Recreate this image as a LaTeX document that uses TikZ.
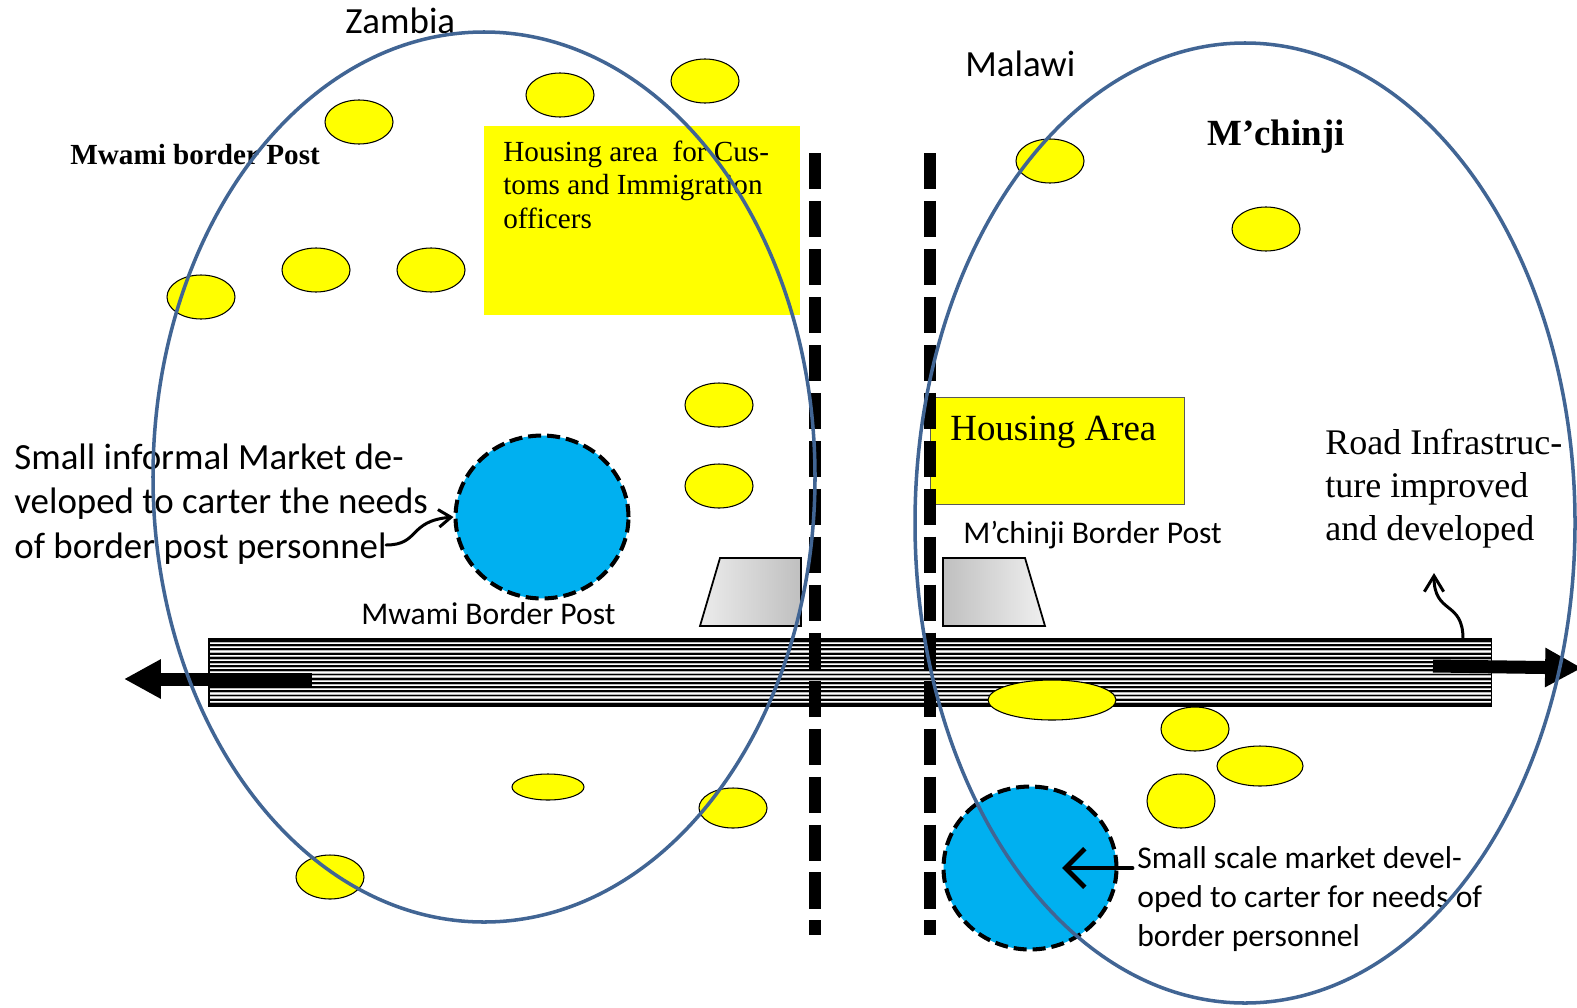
\documentclass[tikz,border=0pt]{standalone}
\usepackage{fontspec}
\setmainfont{Liberation Serif}
\newfontfamily\calib{Carlito}
\usetikzlibrary{shapes.geometric,arrows.meta}
\definecolor{borderblue}{RGB}{65,101,148}
\definecolor{mktblue}{RGB}{0,176,240}
\definecolor{houseyellow}{RGB}{255,255,0}

\begin{document}
\begin{tikzpicture}[x=0.02cm, y=-0.02cm,
    country/.style={draw=borderblue, line width=2pt},
    blob/.style={fill=houseyellow, draw=black, line width=0.6pt},
    market/.style={ellipse, fill=mktblue, draw=black, line width=2.3pt,
        dash pattern=on 7.4pt off 3.4pt, minimum width=3.46cm,
        minimum height=3.26cm, inner sep=0pt},
    frontier/.style={line width=6.3pt, dash pattern=on 20.5pt off 6.8pt},
    roadarrow/.style={line width=7.4pt, -{Triangle[length=21pt,width=21pt]}},
    pointer/.style={line width=1.7pt, line cap=round,
        -{Straight Barb[length=7pt,width=10pt]}},
    txt/.style={anchor=base west, align=left, inner sep=0pt},
    bigsans/.style={txt, font=\calib\fontsize{21}{25.3}\selectfont},
    smallsans/.style={txt, font=\calib\fontsize{18}{22.2}\selectfont}]

    \useasboundingbox (0,0) rectangle (1577,1007);
    \fill[white] (0,0) rectangle (1577,1007);

    % Housing areas
    \fill[houseyellow] (484,126) rectangle (800,315);
    \filldraw[fill=houseyellow, draw=gray!70!black, line width=0.5pt] (930,397) rectangle (1184,504);

    % Road
    \fill[gray!55] (209,639) rectangle (1491,706);
    \foreach \k in {0,...,15} {
        \draw[line width=1.1pt] (209,641+4.19*\k) -- (1491,641+4.19*\k);
        \draw[white, line width=0.45pt] (209,643.2+4.19*\k) -- (1491,643.2+4.19*\k);
    }
    \draw[line width=0.6pt] (209,639) rectangle (1491,706);

    % Border post buildings
    \shade[left color=gray!15, right color=gray!50, draw=black, line width=1pt]
        (720,558) -- (801,558) -- (801,626) -- (700,626) -- cycle;
    \shade[left color=gray!50, right color=gray!12, draw=black, line width=1pt]
        (943,558) -- (1025,558) -- (1045,626) -- (943,626) -- cycle;

    % Houses
    \foreach \x/\y/\rx/\ry in {560/95/34/22, 705/81/34/22, 359/122/34/22,
        316/270/34/22, 431/270/34/22, 201/297/34/22, 719/405/34/22,
        719/486/34/22, 548/787/36/13, 733/808/34/20, 330/877/34/22,
        1050/161/34/22, 1266/229/34/22, 1052/700/64/20, 1195/729/34/22,
        1260/766/43/20, 1181/801/34/27} {
        \draw[blob] (\x,\y) ellipse [x radius=\rx, y radius=\ry];
    }

    % Markets
    \node[market] (mwamimkt) at (542,517) {};
    \node[market] (mchinjimkt) at (1030,868) {};

    % Road directions
    \coordinate (roadwest) at (312,679);
    \coordinate (roadwesttip) at (124,679);
    \coordinate (roadeast) at (1433,666);
    \coordinate (roadeasttip) at (1582,668);
    \draw[roadarrow] (roadwest) -- (roadwesttip);
    \draw[roadarrow] (roadeast) -- (roadeasttip);

    % Labels (base of multi-line nodes is their last line)
    \node[bigsans] (zambia) at (345,34) {Zambia};
    \node[bigsans] (malawi) at (965,76) {Malawi};
    \node[txt, font=\bfseries\fontsize{21}{25}\selectfont] (mchinji) at (1207,145) {M’chinji};
    \node[txt, font=\bfseries\fontsize{16.6}{19}\selectfont] (mwamititle) at (70,164) {Mwami border Post};
    \node[txt, font=\fontsize{16.6}{18.8}\selectfont] (customshouse) at (503,228)
        {Housing area\ \ for Cus-\\toms and Immigration\\officers};
    \node[txt, font=\fontsize{21}{25}\selectfont] (mchinjihouse) at (950,440) {Housing Area};
    \node[bigsans] (infmkt) at (14,558)
        {Small informal Market de-\\veloped to carter the needs\\of border post personnel};
    \node[smallsans] (mwamipost) at (361,624) {Mwami Border Post};
    \node[smallsans] (mchinjipost) at (963,543) {M’chinji Border Post};
    \node[txt, font=\fontsize{20.5}{24.2}\selectfont] (roadtxt) at (1325,540)
        {Road Infrastruc-\\ture improved\\and developed};
    \node[smallsans] (smallmkt) at (1137,946)
        {Small scale market devel-\\oped to carter for needs of\\border personnel};

    % Pointers
    \coordinate (infmktend) at (386,545);
    \draw[pointer] (infmktend) .. controls (420,545) and (408,521) .. (mwamimkt.west);
    \coordinate (mchinjimkttip) at (1062,868);
    \draw[line width=2.8pt, line cap=round, line join=round,
        -{Straight Barb[length=11pt,width=22pt]}]
        ([xshift=-0.1cm]smallmkt.west |- mchinjimkttip) -- (mchinjimkttip);
    \coordinate (infrafoot) at (1463,639);
    \coordinate (infratip) at (1434,573);
    \draw[pointer, -{Straight Barb[length=9pt,width=11pt]}]
        (infrafoot) .. controls (1463,600) and (1434,615) .. (infratip);

    % Border lines
    \draw[frontier] (815,153) -- (815,935);
    \draw[frontier] (930,153) -- (930,935);

    % Countries
    \draw[country] (484,477) ellipse [x radius=331, y radius=445];
    \draw[country] (1245,523) ellipse [x radius=330, y radius=480];

\end{tikzpicture}
\end{document}
